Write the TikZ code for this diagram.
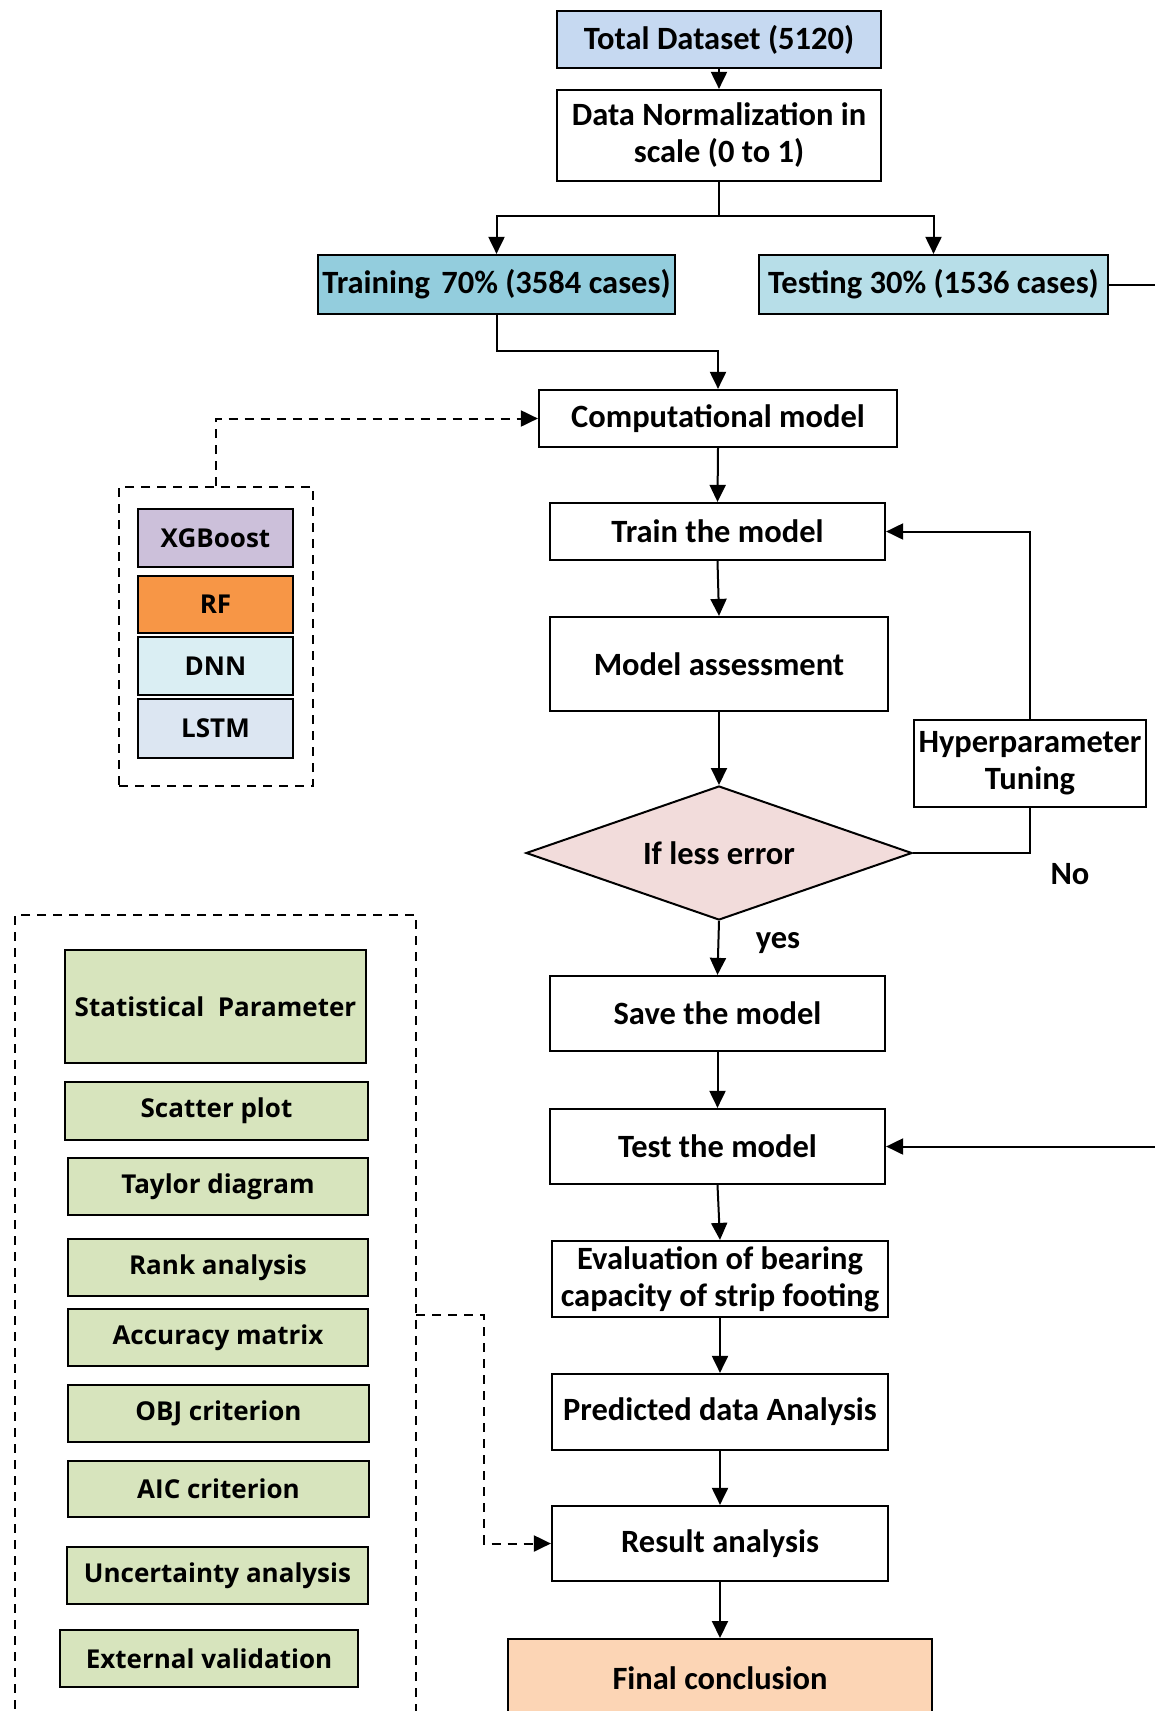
\documentclass[tikz,border=0pt]{standalone}
\usepackage{fontspec}
\setmainfont{Carlito}
\newfontfamily\leftfont{Open Sans}
\usetikzlibrary{arrows.meta,shapes.geometric}
\definecolor{tdfill}{HTML}{C6D9F1}
\definecolor{trfill}{HTML}{93CDDD}
\definecolor{tefill}{HTML}{B7DEE8}
\definecolor{diafill}{HTML}{F2DCDB}
\definecolor{finfill}{HTML}{FCD5B5}
\definecolor{xgfill}{HTML}{CCC0DA}
\definecolor{rffill}{HTML}{F79646}
\definecolor{dnnfill}{HTML}{DAEEF3}
\definecolor{lstmfill}{HTML}{DCE6F2}
\definecolor{grfill}{HTML}{D7E4BD}
\begin{document}
\begin{tikzpicture}[x=1pt,y=-1pt,
  fbox/.style 2 args={draw,line width=2.2pt,rectangle,minimum width=#1,minimum height=#2,inner sep=0pt,align=center,font=\fontsize{32.5}{37}\selectfont\bfseries},
  lbox/.style 2 args={draw,line width=2.2pt,rectangle,minimum width=#1,minimum height=#2,inner sep=0pt,align=center,font=\leftfont\fontsize{26}{30}\selectfont\bfseries},
  dbox/.style 2 args={draw,line width=2pt,dash pattern=on 9pt off 7pt,rectangle,minimum width=#1,minimum height=#2,inner sep=0pt},
  arr/.style={line width=2pt,-{Triangle[length=17pt,width=16pt]}},
  conn/.style={line width=2pt},
  dsh/.style={line width=2pt,dash pattern=on 9pt off 7pt},
  lbl/.style={font=\fontsize{32.5}{37}\selectfont\bfseries,inner sep=0pt}]
\useasboundingbox (0,0) rectangle (1155,1711);
\fill[white] (0,0) rectangle (1155,1711);
\clip (0,0) rectangle (1155,1711);

% main column
\node[fbox={324}{57},fill=tdfill] (total) at (719,39.5) {Total Dataset (5120)};
\node[fbox={324}{91}] (norm) at (719,135.5) {Data Normalization in\\scale (0 to 1)};
\node[fbox={357}{59},fill=trfill] (train) at (496.5,284.5) {Training\hspace{4pt} 70\% (3584 cases)};
\node[fbox={349}{59},fill=tefill] (testd) at (933.5,284.5) {Testing 30\% (1536 cases)};
\node[fbox={358}{57}] (comp) at (718,418.5) {Computational model};
\node[fbox={335}{57}] (trainm) at (717.5,531.5) {Train the model};
\node[fbox={338}{94}] (assess) at (719,664) {Model assessment};
\node[draw,line width=2pt,diamond,shape aspect=2.88,fill=diafill,minimum width=386,minimum height=134,inner sep=0pt,font=\fontsize{32.5}{37}\selectfont\bfseries] (dia) at (719,853) {If less error};
\node[fbox={232}{87}] (hyper) at (1030,763.5) {Hyperparameter\\Tuning};
\node[fbox={335}{75}] (save) at (717.5,1013.5) {Save the model};
\node[fbox={335}{75}] (testm) at (717.5,1146.5) {Test the model};
\node[fbox={336}{76}] (eval) at (720,1279) {Evaluation of bearing\\capacity of strip footing};
\node[fbox={336}{76}] (pred) at (720,1412) {Predicted data Analysis};
\node[fbox={336}{75}] (result) at (720,1543.5) {Result analysis};
\node[fbox={424}{150},fill=finfill,anchor=north] (final) at (720,1638) {};
\node[lbl] (finaltext) at (720,1678) {Final conclusion};

\node[lbl] (no) at (1070,874) {No};
\node[lbl] (yes) at (778,943) {yes};

% main connectors
\draw[arr] (total) -- (norm);
\coordinate (split) at (719,216);
\draw[conn] (norm.south) -- (split);
\draw[arr] (split) -| (train.north);
\draw[arr] (split) -| (testd.north);
\draw[arr] (train.south) -- ++(0,35.5) -| (comp.north);
\draw[arr] (comp.south) -- (trainm.north);
\draw[arr] (trainm.south) -- (assess.north);
\draw[arr] (assess.south) -- (dia.north);
\draw[conn] (dia.east) -| (hyper.south);
\draw[arr] (hyper.north) |- (trainm.east);
\draw[arr] (dia.south) -- (save.north);
\draw[arr] (save.south) -- (testm.north);
\draw[arr] (testm.south) -- (eval.north);
\draw[arr] (eval.south) -- (pred.north);
\draw[arr] (pred.south) -- (result.north);
\draw[arr] (result.south) -- (final.north);
\draw[arr] (testd.east) -- (1175,284.5) |- (testm.east);

% model group
\node[dbox={194}{299}] (mbox) at (216,636.5) {};
\node[lbox={155}{58},fill=xgfill] (xgb) at (215.5,538) {XGBoost};
\node[lbox={155}{57},fill=rffill] (rf) at (215.5,604.5) {RF};
\node[lbox={155}{58},fill=dnnfill] (dnn) at (215.5,666) {DNN};
\node[lbox={155}{59},fill=lstmfill] (lstm) at (215.5,728.5) {LSTM};
\draw[dsh,-{Triangle[length=17pt,width=16pt]}] (mbox.north) |- (comp.west);

% analysis group
\node[dbox={401}{845}] (sbox) at (215.5,1337.5) {};
\node[lbox={301}{113},fill=grfill] (stat) at (215.5,1006.5) {Statistical\ \ Parameter};
\node[lbox={303}{58},fill=grfill] (scat) at (216.5,1111) {Scatter plot};
\node[lbox={300}{57},fill=grfill] (tay) at (218,1186.5) {Taylor diagram};
\node[lbox={300}{57},fill=grfill] (rank) at (218,1267.5) {Rank analysis};
\node[lbox={300}{57},fill=grfill] (acc) at (218,1337.5) {Accuracy matrix};
\node[lbox={301}{57},fill=grfill] (obj) at (218.5,1413.5) {OBJ criterion};
\node[lbox={301}{56},fill=grfill] (aic) at (218.5,1489) {AIC criterion};
\node[lbox={301}{57},fill=grfill] (unc) at (217.5,1575.5) {Uncertainty analysis};
\node[lbox={298}{57},fill=grfill] (ext) at (209,1658.5) {External validation};
\coordinate (sb) at (416,1315);
\draw[dsh,-{Triangle[length=17pt,width=16pt]}] (sb) -- (484,1315) |- (result.west);
\end{tikzpicture}
\end{document}
